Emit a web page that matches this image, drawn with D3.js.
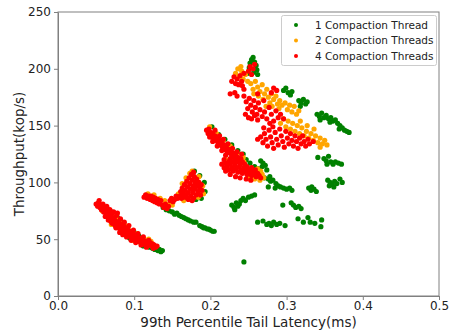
<!DOCTYPE html>
<html><head><meta charset="utf-8">
<script src="https://cdn.jsdelivr.net/npm/d3@7/dist/d3.min.js"></script>
<style>body{margin:0;background:#fff}svg{display:block}</style>
</head><body><svg id="c" width="461" height="331"></svg>
<script>
const seriesNames = ["1 Compaction Thread","2 Compaction Threads","4 Compaction Threads"];
const seriesColors = ["green","orange","red"];
const xTicks = [0,0.1,0.2,0.3,0.4,0.5];
const yTicks = [0,50,100,150,200,250];

const green = [
[0.070,74],[0.078,69],[0.084,65],[0.090,61],[0.094,51],[0.100,56],[0.106,53],[0.112,44],[0.118,48],[0.124,42],[0.127,41],[0.129,42],[0.131,40],[0.133,41],[0.135,39],[0.137,40],[0.126,43],[0.120,43],
[0.179,110],[0.186,106],[0.192,100],[0.193,92],[0.188,86],[0.181,85],
[0.138,78],[0.142,76],[0.146,75],[0.150,74],[0.153,72],[0.156,73],[0.159,71],[0.162,70],[0.165,69],[0.168,68],[0.171,67],[0.174,66],[0.178,65],[0.181,65],[0.186,62],[0.189,61],[0.191,60],[0.193,60],[0.196,59],[0.198,59],[0.200,58],[0.203,57],[0.205,57],
[0.202,149],[0.211,142],[0.219,138],[0.228,133],[0.236,128],[0.243,125],[0.247,120],[0.252,117],[0.258,114],[0.263,112],
[0.266,119],[0.269,117],[0.272,115],[0.268,114],[0.274,111],[0.271,104],[0.276,103],[0.279,101],[0.282,102],[0.278,105],[0.286,99],[0.289,97],[0.292,96],[0.296,95],[0.300,94],[0.304,95],[0.307,93],[0.285,95],[0.276,96],
[0.329,95],[0.332,93],[0.336,94],[0.339,92],[0.333,96],
[0.354,102],[0.357,100],[0.360,98],[0.363,101],[0.366,99],[0.370,103],[0.373,100],[0.356,97],[0.362,96],
[0.349,121],[0.352,119],[0.355,123],[0.358,118],[0.361,116],[0.364,118],[0.368,117],[0.372,116],[0.353,116],[0.341,122],
[0.228,80],[0.231,78],[0.234,82],[0.236,79],[0.240,84],[0.243,86],[0.246,84],[0.250,87],[0.254,88],[0.258,89],[0.232,76],[0.238,81],
[0.295,80],[0.306,82],[0.309,80],[0.312,78],[0.316,79],[0.319,77],
[0.262,65],[0.269,66],[0.274,63],[0.277,64],[0.280,62],[0.283,65],[0.287,63],[0.291,64],[0.298,62],
[0.315,68],[0.322,65],[0.328,69],[0.331,65],[0.337,64],[0.346,67],[0.345,61],
[0.244,30],
[0.340,160],[0.343,158],[0.346,161],[0.349,157],[0.352,159],[0.355,156],[0.358,157],[0.361,154],[0.364,155],[0.367,152],[0.370,150],[0.373,148],[0.376,146],[0.379,145],[0.382,144],[0.369,147],[0.344,155],[0.357,153],
[0.249,196],[0.251,201],[0.252,205],[0.254,208],[0.256,210],[0.258,206],[0.260,203],[0.261,199],[0.257,197],[0.262,195],
[0.296,181],[0.299,183],[0.302,179],[0.305,177],[0.307,180],[0.316,172],[0.319,170],[0.322,173],[0.325,169],[0.327,171],[0.318,167]
];

const orange = [
[0.058,75],[0.066,76],[0.070,63],[0.075,70],[0.079,67],[0.085,64],[0.088,62],[0.092,60],[0.096,57],[0.098,49],[0.104,55],[0.108,47],[0.113,50],[0.117,44],[0.122,48],[0.119,50],
[0.118,90],[0.126,89],[0.134,86],[0.140,84],[0.146,81],[0.150,80],[0.158,90],[0.163,99],[0.168,104],[0.173,108],[0.176,110],[0.185,105],[0.190,97],[0.191,90],[0.184,87],[0.165,84],
[0.199,149],[0.208,143],[0.217,137],[0.226,132],[0.235,126],[0.243,122],[0.244,118],[0.220,120],[0.231,119],[0.262,112],[0.266,110],[0.268,107],[0.270,104],[0.265,102],[0.258,103],[0.250,104],
[0.233,196],[0.236,200],[0.238,193],[0.241,198],[0.243,191],[0.246,195],[0.249,189],[0.240,202],
[0.253,187],[0.256,182],[0.259,189],[0.257,178],[0.262,184],[0.265,180],[0.263,176],[0.268,186],[0.271,178],[0.269,173],[0.274,182],[0.276,175],[0.278,170],[0.280,178],[0.283,173],[0.281,167],[0.286,176],[0.288,169],[0.291,172],[0.290,165],[0.294,168],[0.273,167],
[0.298,170],[0.301,164],[0.304,168],[0.307,162],[0.310,167],[0.313,160],[0.316,163],
[0.292,152],[0.296,156],[0.299,149],[0.302,154],[0.305,147],[0.308,152],[0.311,145],[0.314,150],[0.317,143],[0.320,148],[0.323,141],[0.326,145],[0.329,139],[0.332,143],[0.335,137],[0.338,141],[0.341,135],[0.344,139],[0.347,134],[0.350,137],[0.353,133],[0.336,147],[0.344,131],[0.327,150],[0.318,154]
];

const red = [
[0.050,81],[0.052,79],[0.053,82],[0.055,78],[0.056,80],[0.057,76],[0.058,79],[0.060,77],[0.060,74],[0.062,76],[0.063,72],[0.064,75],[0.065,70],[0.066,73],[0.067,68],[0.068,72],[0.069,66],[0.070,70],[0.071,73],[0.072,67],[0.073,64],[0.074,69],[0.075,62],[0.076,66],[0.077,71],[0.078,63],[0.079,60],[0.080,65],[0.081,61],[0.082,58],[0.083,63],[0.084,60],[0.085,57],[0.086,62],[0.087,59],[0.088,55],[0.089,60],[0.090,57],[0.091,54],[0.092,58],[0.093,56],[0.094,53],[0.095,57],[0.096,54],[0.097,51],[0.098,55],[0.099,52],[0.100,50],[0.101,54],[0.102,51],[0.103,49],[0.104,52],[0.106,50],[0.107,48],[0.108,51],[0.110,48],[0.111,46],[0.112,49],[0.114,47],[0.115,45],[0.116,48],[0.118,46],[0.120,45],[0.121,47],[0.123,44],[0.124,46],[0.126,45],[0.128,43],[0.130,44],
[0.054,84],[0.059,81],[0.062,70],[0.064,79],[0.066,67],[0.068,76],[0.071,64],[0.073,74],[0.076,60],[0.078,73],[0.081,56],[0.082,68],[0.085,54],[0.087,65],[0.090,52],[0.093,62],[0.096,49],[0.099,58],[0.102,47],[0.105,55],[0.109,45],[0.112,52],[0.116,43],[0.119,49],[0.125,42],
[0.113,87],[0.115,89],[0.117,86],[0.119,88],[0.121,85],[0.122,88],[0.124,84],[0.125,87],[0.127,83],[0.128,86],[0.130,82],[0.131,85],[0.133,81],[0.135,84],[0.137,80],[0.139,78],[0.141,81],[0.143,77],[0.145,79],[0.147,84],[0.149,86],[0.151,83],[0.153,85],[0.155,88],[0.157,86],
[0.160,88],[0.161,92],[0.162,86],[0.163,95],[0.164,90],[0.165,87],[0.166,98],[0.167,93],[0.168,89],[0.169,101],[0.170,96],[0.170,86],[0.171,91],[0.172,104],[0.173,99],[0.174,94],[0.174,88],[0.175,107],[0.176,102],[0.177,97],[0.177,91],[0.178,86],[0.179,105],[0.180,100],[0.180,94],[0.181,89],[0.182,103],[0.183,97],[0.184,92],[0.185,100],[0.186,95],[0.187,89],[0.188,98],[0.189,93],[0.178,109],[0.171,85],[0.176,84],
[0.195,146],[0.197,143],[0.198,147],[0.200,144],[0.201,140],[0.203,143],[0.204,139],[0.206,141],[0.207,137],[0.209,139],[0.210,135],[0.212,137],[0.213,133],[0.215,135],[0.216,131],[0.218,133],[0.219,129],[0.221,131],[0.222,127],[0.224,129],[0.225,126],[0.227,127],[0.228,124],[0.230,126],[0.231,122],[0.233,124],[0.234,121],[0.236,122],[0.238,120],[0.240,121],[0.242,118],
[0.199,140],[0.203,136],[0.206,146],[0.209,132],[0.212,141],[0.215,128],[0.217,138],[0.220,124],[0.223,134],[0.226,121],[0.229,130],[0.232,118],[0.235,127],[0.239,116],[0.241,125],
[0.215,116],[0.218,113],[0.220,117],[0.222,114],[0.224,111],[0.226,116],[0.228,113],[0.230,110],[0.232,115],[0.234,112],[0.236,109],[0.238,114],[0.240,111],[0.242,108],[0.244,113],[0.246,110],[0.248,107],[0.250,111],[0.252,108],[0.254,106],[0.256,110],[0.258,107],[0.260,105],[0.262,108],[0.264,106],[0.266,104],[0.245,116],[0.235,118],
[0.220,110],[0.226,107],[0.233,105],[0.239,104],[0.247,103],[0.253,102],[0.218,120],[0.225,119],[0.229,118],[0.248,114],[0.254,113],[0.259,111],
[0.228,189],[0.231,193],[0.233,187],[0.235,191],[0.237,186],[0.239,194],[0.241,189],[0.244,196],[0.242,185],[0.226,178],[0.232,179],[0.235,176],
[0.250,198],[0.252,202],[0.254,195],[0.256,200],[0.258,204],
[0.244,176],[0.247,171],[0.249,165],[0.251,174],[0.253,168],[0.255,162],[0.257,172],[0.259,166],[0.261,160],[0.263,170],[0.246,160],[0.250,157],[0.254,156],[0.258,159],[0.265,164],[0.268,158],[0.271,162],[0.274,156],[0.277,166],[0.280,160],[0.283,154],[0.286,163],[0.289,157],[0.292,160],[0.296,156],[0.278,152],[0.270,172],[0.283,183],[0.280,179],[0.287,181],[0.244,182],[0.262,178],[0.262,155],
[0.266,140],[0.269,135],[0.271,143],[0.273,138],[0.275,132],[0.277,146],[0.279,140],[0.281,135],[0.283,130],[0.285,144],[0.287,138],[0.289,133],[0.291,147],[0.293,141],[0.295,136],[0.297,131],[0.299,145],[0.301,139],[0.303,134],[0.305,143],[0.307,137],[0.309,132],[0.311,141],[0.313,136],[0.315,130],[0.317,139],[0.319,134],[0.321,141],[0.323,136],[0.325,132],[0.328,138],[0.330,134],[0.262,138],[0.270,148],[0.282,149],[0.335,136]
];

const allSeries = [green, orange, red];

const svg = d3.select("#c");
const m = {l:58, r:22, t:12, b:35};
const W = 461, H = 331;
const x = d3.scaleLinear().domain([0,0.5]).range([m.l, W-m.r]);
const y = d3.scaleLinear().domain([0,250]).range([H-m.b, m.t]);
const font = "DejaVu Sans, sans-serif";
const axisCol = "#808080";

allSeries.forEach((pts,i)=>{
  svg.append("g").selectAll("circle").data(pts).join("circle")
    .attr("cx",d=>x(d[0])).attr("cy",d=>y(d[1])).attr("r",2.6)
    .attr("fill",seriesColors[i]);
});

const xa = svg.append("g").attr("transform",`translate(0,${H-m.b})`)
  .call(d3.axisBottom(x).tickValues(xTicks).tickFormat(d3.format(".1f")).tickSize(4).tickSizeOuter(0));
const ya = svg.append("g").attr("transform",`translate(${m.l},0)`)
  .call(d3.axisLeft(y).tickValues(yTicks).tickFormat(d3.format("d")).tickSize(4).tickSizeOuter(0));
[xa,ya].forEach(a=>{
  a.selectAll("path,line").attr("stroke",axisCol);
  a.selectAll("text").attr("font-family",font).attr("font-size",12).attr("fill","#222");
});
xa.selectAll("text").attr("dy","0.55em");
svg.append("rect").attr("x",m.l).attr("y",m.t).attr("width",W-m.l-m.r).attr("height",H-m.t-m.b)
  .attr("fill","none").attr("stroke",axisCol).attr("stroke-width",1);

svg.append("text").attr("x",(m.l+W-m.r)/2).attr("y",327).attr("text-anchor","middle")
  .attr("font-family",font).attr("font-size",13.5).attr("fill","#222").text("99th Percentile Tail Latency(ms)");
svg.append("text").attr("transform",`translate(24,${(m.t+H-m.b)/2}) rotate(-90)`).attr("text-anchor","middle")
  .attr("font-family",font).attr("font-size",13.5).attr("fill","#222").text("Throughput(kop/s)");

const lg = svg.append("g");
lg.append("rect").attr("x",281.5).attr("y",15.5).attr("width",155).attr("height",50).attr("rx",2)
  .attr("fill","#fff").attr("fill-opacity",0.8).attr("stroke","#ccc");
seriesNames.forEach((n,i)=>{
  const yy = 25 + i*15.5;
  lg.append("circle").attr("cx",296).attr("cy",yy).attr("r",2).attr("fill",seriesColors[i]);
  lg.append("text").attr("x",315).attr("y",yy).attr("dy","0.35em").attr("font-family",font)
    .attr("font-size",10.5).attr("fill","#222").text(n);
});
</script></body></html>
